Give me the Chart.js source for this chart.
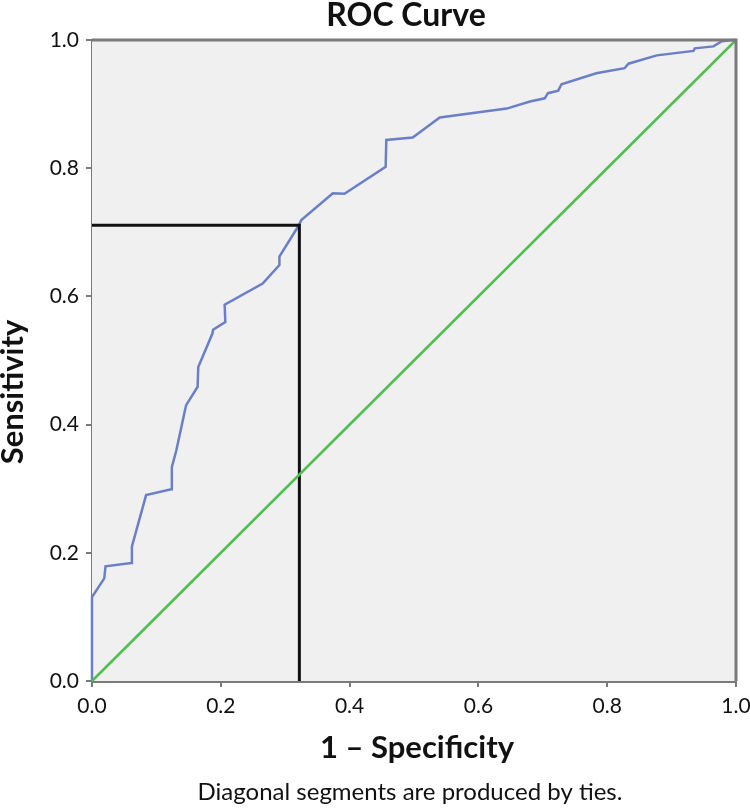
<!DOCTYPE html>
<html>
<head>
<meta charset="utf-8">
<script src="https://cdn.jsdelivr.net/npm/chart.js@4/dist/chart.umd.min.js"></script>
<style>
  html, body { margin: 0; padding: 0; background: #ffffff; }
  #wrap { width: 750px; height: 811px; position: relative; }
</style>
</head>
<body>
<div id="wrap"><canvas id="c" width="750" height="811"></canvas></div>
<script>
// ROC curve points (1 - specificity, sensitivity)
const rocX = [0.000, 0.000, 0.019, 0.021, 0.061, 0.062, 0.084, 0.123, 0.124, 0.131, 0.146, 0.164, 0.165, 0.187, 0.188, 0.207, 0.206, 0.265, 0.291, 0.291, 0.320, 0.325, 0.374, 0.392, 0.456, 0.457, 0.498, 0.540, 0.644, 0.680, 0.703, 0.708, 0.724, 0.729, 0.783, 0.827, 0.833, 0.877, 0.934, 0.936, 0.965, 0.978, 0.996, 1.000];
const rocY = [0.000, 0.131, 0.160, 0.179, 0.184, 0.210, 0.290, 0.299, 0.334, 0.360, 0.430, 0.459, 0.490, 0.542, 0.548, 0.560, 0.587, 0.620, 0.649, 0.662, 0.709, 0.719, 0.761, 0.760, 0.802, 0.844, 0.848, 0.879, 0.893, 0.904, 0.909, 0.917, 0.921, 0.931, 0.948, 0.956, 0.963, 0.976, 0.983, 0.987, 0.990, 0.998, 1.000, 1.000];
// Reference diagonal
const diagX = [0, 1];
const diagY = [0, 1];
// Cut-off point lines
const cutX = [0, 0.322, 0.322];
const cutY = [0.711, 0.711, 0];
// Tick values
const tickValues = [0, 0.2, 0.4, 0.6, 0.8, 1.0];

const titleText = 'ROC Curve';
const xTitle = '1 \u2013 Specificity';
const yTitle = 'Sensitivity';
const footText = 'Diagonal segments are produced by ties.';

const FONT = 'Lato, "Open Sans", sans-serif';
const toPts = (xs, ys) => xs.map((x, i) => ({ x: x, y: ys[i] }));

const decor = {
  id: 'decor',
  beforeDatasetsDraw(chart) {
    const { ctx, chartArea: a } = chart;
    ctx.save();
    ctx.fillStyle = '#f0f0f0';
    ctx.fillRect(a.left, a.top, a.right - a.left, a.bottom - a.top);
    ctx.restore();
  },
  afterDatasetsDraw(chart) {
    const { ctx, chartArea: a } = chart;
    ctx.save();
    ctx.strokeStyle = '#7a7a7a';
    ctx.lineWidth = 3;
    ctx.beginPath();
    ctx.moveTo(a.left, a.top);
    ctx.lineTo(a.right, a.top);
    ctx.lineTo(a.right, a.bottom);
    ctx.stroke();
    ctx.restore();
  },
  afterDraw(chart) {
    const { ctx } = chart;
    ctx.save();
    ctx.fillStyle = '#111111';
    ctx.textAlign = 'center';
    ctx.textBaseline = 'alphabetic';
    ctx.font = 'bold 32px ' + FONT;
    ctx.fillText(titleText, 406, 26);
    ctx.font = 'bold 31px ' + FONT;
    ctx.fillText(xTitle, 417, 758);
    ctx.font = '24px ' + FONT;
    ctx.fillText(footText, 410, 800);
    ctx.translate(23, 392);
    ctx.rotate(-Math.PI / 2);
    ctx.font = 'bold 31px ' + FONT;
    ctx.fillText(yTitle, 0, 0);
    ctx.restore();
  }
};

const axisCommon = {
  type: 'linear',
  min: 0,
  max: 1,
  afterBuildTicks(scale) { scale.ticks = tickValues.map(v => ({ value: v })); },
  ticks: {
    color: '#111111',
    font: { family: FONT, size: 21 },
    callback: v => Number(v).toFixed(1),
    padding: 7
  },
  grid: {
    drawOnChartArea: false,
    drawTicks: true,
    tickLength: 6,
    color: '#7a7a7a',
    lineWidth: 2
  },
  border: { display: true, color: '#7a7a7a', width: 3 }
};

new Chart(document.getElementById('c'), {
  type: 'scatter',
  data: {
    datasets: [
      {
        label: 'Diagonal',
        data: toPts(diagX, diagY),
        showLine: true,
        borderColor: '#4fbf4f',
        borderWidth: 2.5,
        pointRadius: 0,
        clip: 6
      },
      {
        label: 'Cut-off',
        data: toPts(cutX, cutY),
        showLine: true,
        borderColor: '#111111',
        borderWidth: 3,
        pointRadius: 0,
        clip: 6
      },
      {
        label: 'ROC',
        data: toPts(rocX, rocY),
        showLine: true,
        borderColor: '#6b7fc6',
        borderWidth: 2.5,
        pointRadius: 0,
        tension: 0,
        clip: 6
      }
    ]
  },
  options: {
    responsive: false,
    animation: false,
    layout: { padding: { top: 40, right: 14, left: 0, bottom: 0 } },
    plugins: {
      legend: { display: false },
      tooltip: { enabled: false },
      title: { display: false }
    },
    scales: {
      x: Object.assign({}, axisCommon, {
        position: 'bottom',
        afterFit(scale) {
          scale.height = 130;
          scale.paddingLeft = 0;
          scale.paddingRight = 0;
        }
      }),
      y: Object.assign({}, axisCommon, {
        position: 'left',
        afterFit(scale) {
          scale.width = 92;
          scale.paddingTop = 0;
          scale.paddingBottom = 0;
        }
      })
    }
  },
  plugins: [decor]
});
</script>
</body>
</html>
